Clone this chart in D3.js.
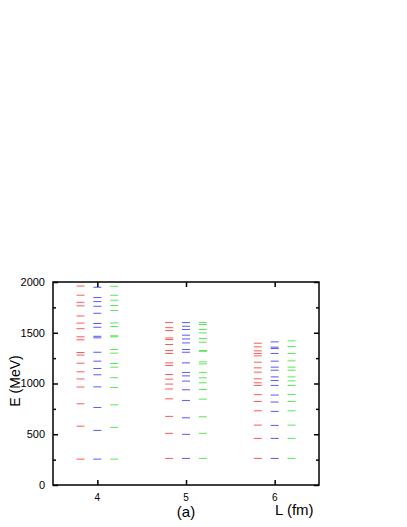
<!DOCTYPE html>
<meta charset="UTF-8">
<head>
    <script src="https://d3js.org/d3.v7.min.js"></script>
    <style>
        body { margin: 0; background: #fff; }
        text { font-family: Arial, "Liberation Sans", sans-serif; fill: #000; }
        .lvl { stroke-width: 1px; }
    </style>
</head>
<body>
<script>
    // box lengths (fm) and the three level sets for each of them
    var lengths = [4, 5, 6];
    var xTickLabels = ["4", "5", "6"];
    var yTicks = [0, 500, 1000, 1500, 2000];

    var redLevels = [
        [1960, 1870, 1800, 1765, 1665, 1595, 1540, 1460, 1430, 1305, 1280, 1200, 1115, 1045, 965, 800, 580, 255],
        [1600, 1550, 1522, 1449, 1433, 1384, 1325, 1296, 1203, 1178, 1089, 1043, 994, 946, 849, 676, 509, 262],
        [1397, 1361, 1321, 1296, 1272, 1210, 1154, 1112, 1046, 1007, 981, 890, 823, 731, 590, 459, 262]
    ];
    var blueLevels = [
        [1948, 1847, 1807, 1761, 1692, 1591, 1554, 1465, 1450, 1308, 1220, 1148, 1086, 967, 764, 538, 255],
        [1600, 1564, 1532, 1476, 1439, 1400, 1335, 1308, 1203, 1109, 1075, 1024, 938, 833, 662, 499, 262],
        [1410, 1358, 1345, 1296, 1220, 1161, 1131, 1065, 1030, 981, 886, 817, 725, 587, 459, 262]
    ];
    var greenLevels = [
        [1958, 1869, 1820, 1768, 1719, 1597, 1561, 1470, 1460, 1335, 1299, 1197, 1161, 1057, 961, 790, 568, 255],
        [1601, 1581, 1532, 1498, 1443, 1407, 1325, 1317, 1213, 1193, 1109, 1056, 1007, 941, 846, 672, 509, 262],
        [1420, 1364, 1296, 1223, 1161, 1131, 1065, 1026, 981, 892, 823, 731, 590, 459, 262]
    ];

    var series = [
        { color: "#ff2020", offset: -0.19, levels: redLevels },
        { color: "#2020ff", offset: 0, levels: blueLevels },
        { color: "#20e020", offset: 0.19, levels: greenLevels }
    ];

    var W = 407, H = 527;
    var plotL = 53, plotR = 319, plotT = 282, plotB = 485;

    var svg = d3.select("body").append("svg")
        .attr("width", W)
        .attr("height", H);

    var x = d3.scaleLinear().domain([3.5, 6.5]).range([plotL, plotR]);
    var y = d3.scaleLinear().domain([0, 2000]).range([plotB, plotT]);

    var halfW = 0.045;

    // level lines
    series.forEach(function (s) {
        s.levels.forEach(function (lv, i) {
            svg.append("g")
                .selectAll("line")
                .data(lv)
                .enter()
                .append("line")
                .attr("class", "lvl")
                .attr("x1", x(lengths[i] + s.offset - halfW))
                .attr("x2", x(lengths[i] + s.offset + halfW))
                .attr("y1", function (d) { return y(d); })
                .attr("y2", function (d) { return y(d); })
                .attr("stroke", s.color)
                .attr("stroke-opacity", 0.75);
        });
    });

    // axes, ticks pointing inward on all four sides
    var yMinor = d3.range(250, 2000, 500);

    function yAxis(gen, xpos) {
        svg.append("g")
            .attr("transform", "translate(" + xpos + ",0)")
            .call(gen)
            .call(function (g) { g.select(".domain").remove(); });
    }

    yAxis(d3.axisLeft(y).tickValues(yTicks).tickSize(-5).tickFormat(""), plotL);
    yAxis(d3.axisLeft(y).tickValues(yMinor).tickSize(-3).tickFormat(""), plotL);
    yAxis(d3.axisRight(y).tickValues(yTicks).tickSize(-5).tickFormat(""), plotR);
    yAxis(d3.axisRight(y).tickValues(yMinor).tickSize(-3).tickFormat(""), plotR);

    svg.append("g")
        .attr("transform", "translate(0," + plotB + ")")
        .call(d3.axisBottom(x).tickValues(lengths).tickSize(-5).tickFormat(""))
        .call(function (g) { g.select(".domain").remove(); });
    svg.append("g")
        .attr("transform", "translate(0," + plotT + ")")
        .call(d3.axisTop(x).tickValues(lengths).tickSize(-5).tickFormat(""))
        .call(function (g) { g.select(".domain").remove(); });

    svg.selectAll(".tick line").attr("stroke-width", 1.5);

    // frame
    svg.append("rect")
        .attr("x", plotL)
        .attr("y", plotT)
        .attr("width", plotR - plotL)
        .attr("height", plotB - plotT)
        .attr("fill", "none")
        .attr("stroke", "#000")
        .attr("stroke-width", 1.5);

    // tick labels
    svg.append("g").selectAll("text")
        .data(yTicks)
        .enter()
        .append("text")
        .attr("x", plotL - 8)
        .attr("y", function (d) { return y(d); })
        .attr("dy", "0.35em")
        .attr("text-anchor", "end")
        .style("font-size", "11px")
        .text(function (d) { return d; });

    svg.append("g").selectAll("text")
        .data(lengths)
        .enter()
        .append("text")
        .attr("x", function (d) { return x(d); })
        .attr("y", 500.5)
        .attr("text-anchor", "middle")
        .style("font-size", "10px")
        .text(function (d, i) { return xTickLabels[i]; });

    // axis titles
    svg.append("text")
        .attr("transform", "translate(20,381) rotate(-90)")
        .attr("text-anchor", "middle")
        .style("font-size", "14px")
        .text("E (MeV)");

    svg.append("text")
        .attr("x", x(5))
        .attr("y", 517)
        .attr("text-anchor", "middle")
        .style("font-size", "15px")
        .text("(a)");

    svg.append("text")
        .attr("x", 275)
        .attr("y", 515)
        .style("font-size", "15px")
        .text("L (fm)");
</script>
</body>
